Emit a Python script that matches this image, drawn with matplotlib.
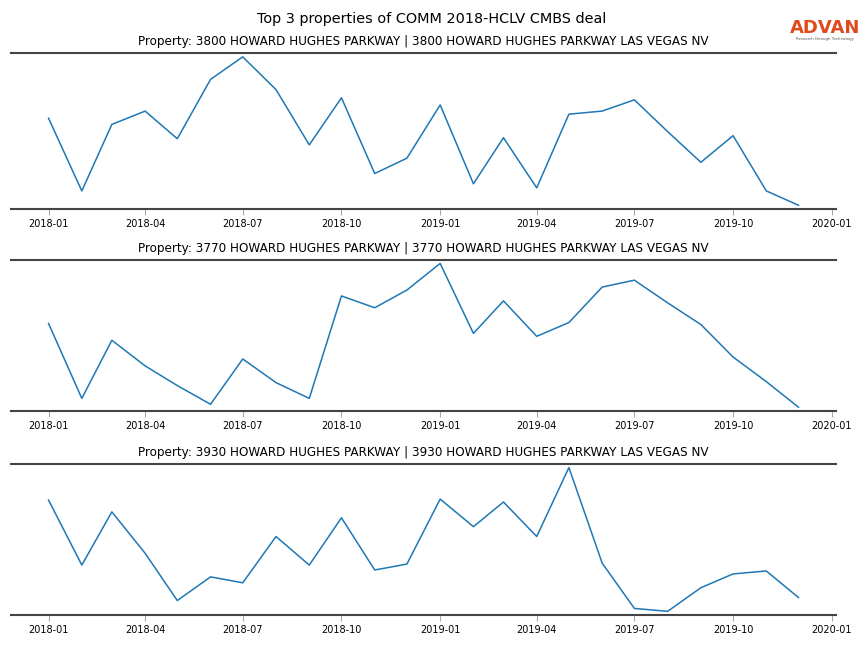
import pandas as pd
import matplotlib
matplotlib.use("Agg")
import matplotlib.pyplot as plt
import matplotlib.dates as mdates

months = pd.date_range("2018-01-01", "2019-12-01", freq="MS")

titles = [
    "Property: 3800 HOWARD HUGHES PARKWAY | 3800 HOWARD HUGHES PARKWAY LAS VEGAS NV",
    "Property: 3770 HOWARD HUGHES PARKWAY | 3770 HOWARD HUGHES PARKWAY LAS VEGAS NV",
    "Property: 3930 HOWARD HUGHES PARKWAY | 3930 HOWARD HUGHES PARKWAY LAS VEGAS NV",
]

visits_3800 = [90, 19, 84, 97, 70, 128, 150, 118, 64, 110, 36, 51,
               103, 26, 71, 22, 94, 97, 108, 77, 47, 73, 19, 5]
visits_3770 = [87, 11, 70, 44, 24, 5, 51, 27, 11, 115, 103, 121,
               148, 77, 110, 74, 88, 124, 131, 108, 86, 53, 28, 2]
visits_3930 = [115, 49, 103, 61, 13, 37, 31, 78, 49, 97, 44, 50,
               116, 88, 113, 78, 148, 51, 5, 2, 26, 40, 43, 16]

series = [visits_3800, visits_3770, visits_3930]

fig = plt.figure(figsize=(8.64, 6.48), dpi=100)
fig.suptitle("Top 3 properties of COMM 2018-HCLV CMBS deal", fontsize=10.4, y=0.982)

boxes = [(0.918, 0.6775), (0.599, 0.366), (0.284, 0.051)]
for (top, bottom), title, vals in zip(boxes, titles, series):
    ax = fig.add_axes([0.0128, bottom, 0.9548, top - bottom])
    ax.plot(months, vals, color="#1f77b4", linewidth=1.1)
    ax.margins(x=0.05, y=0.025)
    ax.set_title(title, fontsize=8.65, pad=5.5)
    ax.spines["left"].set_visible(False)
    ax.spines["right"].set_visible(False)
    for s in ("top", "bottom"):
        ax.spines[s].set_color("#444444")
        ax.spines[s].set_linewidth(1.5)
    ax.set_yticks([])
    ax.xaxis.set_major_locator(mdates.MonthLocator(bymonth=[1, 4, 7, 10]))
    ax.xaxis.set_major_formatter(mdates.DateFormatter("%Y-%m"))
    ax.tick_params(axis="x", labelsize=7, color="#aaaaaa", length=4)

fig.text(0.955, 0.957, "ADVAN", color="#e04a1c", fontsize=13,
         ha="center", va="center", fontweight="semibold")
fig.text(0.955, 0.940, "Research through Technology", color="#555555",
         fontsize=2.8, ha="center", va="center")

fig.savefig("out.png", dpi=100)
